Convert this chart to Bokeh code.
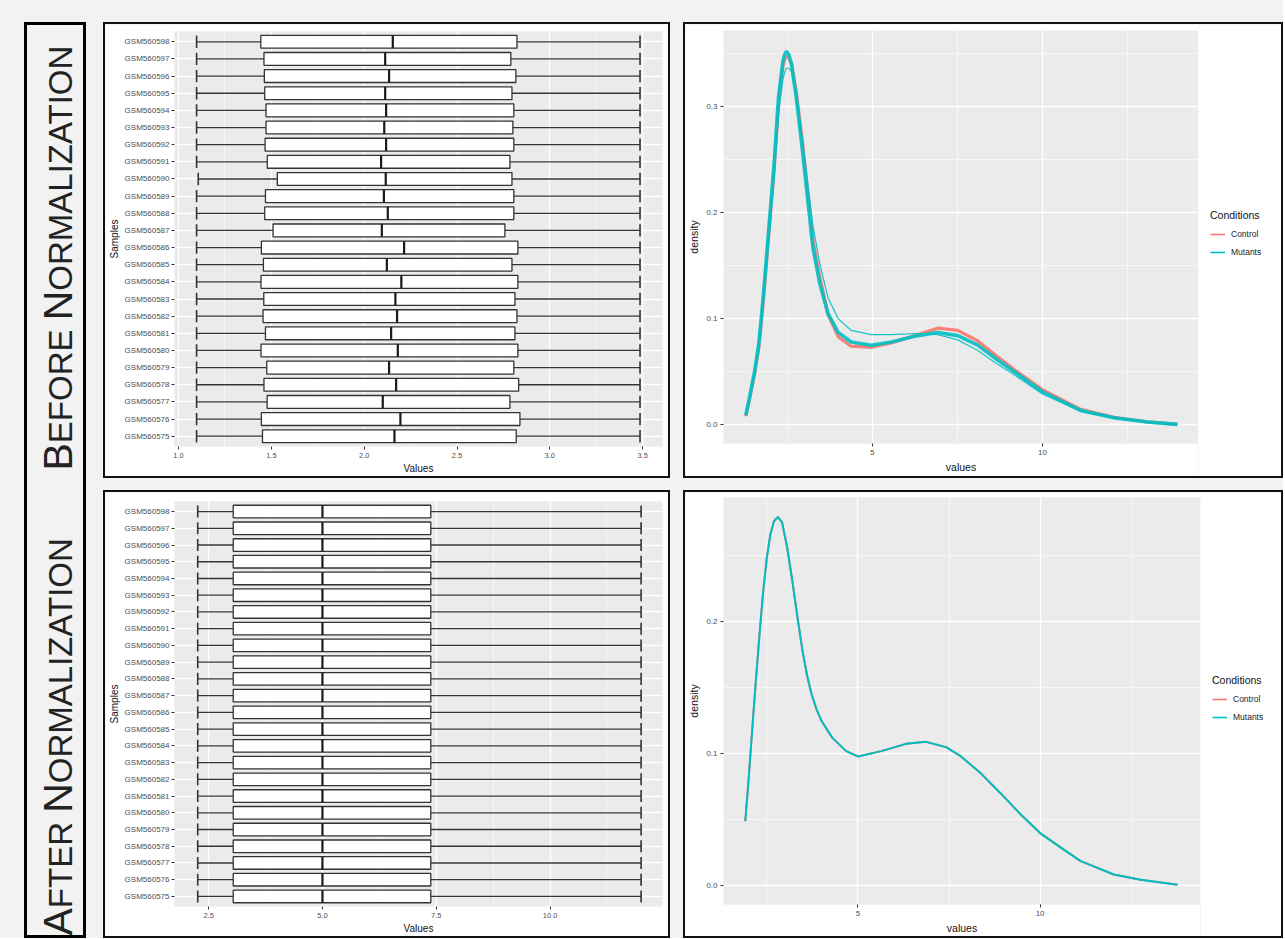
import math
from bokeh.plotting import figure
from bokeh.models import (ColumnDataSource, FactorRange, Range1d, FixedTicker,
                          PrintfTickFormatter, Legend, LegendItem, Spacer)
from bokeh.layouts import row, column
from bokeh.transform import dodge
from bokeh.embed import file_html
from bokeh.resources import INLINE

FONT = "Liberation Sans"
PAGE_BG = "#F2F2F2"

# ---------------- data ----------------
samples = ["GSM560575", "GSM560576", "GSM560577", "GSM560578", "GSM560579", "GSM560580",
           "GSM560581", "GSM560582", "GSM560583", "GSM560584", "GSM560585", "GSM560586",
           "GSM560587", "GSM560588", "GSM560589", "GSM560590", "GSM560591", "GSM560592",
           "GSM560593", "GSM560594", "GSM560595", "GSM560596", "GSM560597", "GSM560598"]

before_low = [1.097, 1.097, 1.097, 1.097, 1.097, 1.097, 1.097, 1.097, 1.097, 1.097, 1.097, 1.097,
              1.097, 1.097, 1.097, 1.106, 1.097, 1.097, 1.097, 1.097, 1.097, 1.097, 1.097, 1.097]
before_q1 = [1.452, 1.446, 1.477, 1.460, 1.475, 1.444, 1.468, 1.455, 1.459, 1.444, 1.457, 1.446,
             1.509, 1.464, 1.468, 1.532, 1.478, 1.466, 1.471, 1.471, 1.464, 1.462, 1.460, 1.443]
before_med = [2.163, 2.195, 2.100, 2.172, 2.134, 2.181, 2.145, 2.177, 2.168, 2.200, 2.122, 2.215,
              2.095, 2.127, 2.106, 2.116, 2.091, 2.118, 2.108, 2.118, 2.113, 2.134, 2.113, 2.154]
before_q3 = [2.819, 2.839, 2.785, 2.832, 2.806, 2.828, 2.812, 2.823, 2.812, 2.828, 2.796, 2.828,
             2.758, 2.806, 2.806, 2.796, 2.785, 2.806, 2.801, 2.806, 2.796, 2.817, 2.790, 2.823]
before_high = [3.486, 3.486, 3.486, 3.486, 3.486, 3.486, 3.486, 3.486, 3.486, 3.486, 3.486, 3.486,
               3.486, 3.486, 3.486, 3.486, 3.486, 3.486, 3.486, 3.486, 3.486, 3.486, 3.486, 3.486]

after_low = [2.26, 2.26, 2.26, 2.26, 2.26, 2.26, 2.26, 2.26, 2.26, 2.26, 2.26, 2.26,
             2.26, 2.26, 2.26, 2.26, 2.26, 2.26, 2.26, 2.26, 2.26, 2.26, 2.26, 2.26]
after_q1 = [3.04, 3.04, 3.04, 3.04, 3.04, 3.04, 3.04, 3.04, 3.04, 3.04, 3.04, 3.04,
            3.04, 3.04, 3.04, 3.04, 3.04, 3.04, 3.04, 3.04, 3.04, 3.04, 3.04, 3.04]
after_med = [5.0, 5.0, 5.0, 5.0, 5.0, 5.0, 5.0, 5.0, 5.0, 5.0, 5.0, 5.0,
             5.0, 5.0, 5.0, 5.0, 5.0, 5.0, 5.0, 5.0, 5.0, 5.0, 5.0, 5.0]
after_q3 = [7.38, 7.38, 7.38, 7.38, 7.38, 7.38, 7.38, 7.38, 7.38, 7.38, 7.38, 7.38,
            7.38, 7.38, 7.38, 7.38, 7.38, 7.38, 7.38, 7.38, 7.38, 7.38, 7.38, 7.38]
after_high = [12.0, 12.0, 12.0, 12.0, 12.0, 12.0, 12.0, 12.0, 12.0, 12.0, 12.0, 12.0,
              12.0, 12.0, 12.0, 12.0, 12.0, 12.0, 12.0, 12.0, 12.0, 12.0, 12.0, 12.0]

before_ticks = [1.0, 1.5, 2.0, 2.5, 3.0, 3.5]
after_ticks = [2.5, 5.0, 7.5, 10.0]

dens_before_x = [1.29, 1.40, 1.55, 1.67, 1.80, 1.96, 2.12, 2.25, 2.38, 2.43, 2.48, 2.55, 2.63,
                 2.77, 2.94, 3.10, 3.26, 3.46, 3.70, 4.00, 4.38, 4.97, 5.56, 6.34, 6.92, 7.51,
                 8.10, 8.68, 9.17, 10.0, 11.12, 12.1, 13.08, 13.96]
dens_before_mut = [0.009, 0.026, 0.051, 0.076, 0.120, 0.183, 0.246, 0.309, 0.343, 0.349, 0.352,
                   0.349, 0.340, 0.309, 0.262, 0.2145, 0.167, 0.133, 0.105, 0.087, 0.078, 0.075,
                   0.078, 0.084, 0.087, 0.084, 0.075, 0.061, 0.050, 0.031, 0.0135, 0.0066,
                   0.0025, 0.0003]
dens_before_mut_b = [0.009, 0.025, 0.049, 0.073, 0.114, 0.173, 0.232, 0.293, 0.326, 0.332, 0.336,
                     0.336, 0.333, 0.310, 0.272, 0.230, 0.188, 0.152, 0.120, 0.100, 0.089, 0.085,
                     0.085, 0.086, 0.085, 0.080, 0.070, 0.057, 0.047, 0.029, 0.0128, 0.0063,
                     0.0024, 0.0003]
dens_before_ctrl = [0.008, 0.024, 0.048, 0.072, 0.115, 0.178, 0.240, 0.302, 0.338, 0.344, 0.347,
                    0.346, 0.340, 0.314, 0.270, 0.222, 0.174, 0.140, 0.104, 0.083, 0.074, 0.073,
                    0.077, 0.085, 0.091, 0.089, 0.079, 0.064, 0.052, 0.033, 0.0145, 0.007,
                    0.0027, 0.0003]

dens_after_x = [1.91, 2.0, 2.1, 2.2, 2.3, 2.4, 2.5, 2.6, 2.7, 2.81, 2.92, 3.06, 3.2, 3.36, 3.48,
                3.6, 3.72, 3.86, 4.0, 4.3, 4.68, 5.0, 5.64, 6.32, 6.87, 7.42, 7.83, 8.38, 8.92,
                9.47, 10.0, 10.57, 11.1, 12.02, 12.76, 13.77]
dens_after_y = [0.049, 0.080, 0.118, 0.155, 0.190, 0.222, 0.248, 0.266, 0.276, 0.279, 0.275,
                0.256, 0.231, 0.200, 0.178, 0.160, 0.146, 0.134, 0.125, 0.112, 0.102, 0.098,
                0.102, 0.1075, 0.109, 0.105, 0.098, 0.085, 0.070, 0.054, 0.040, 0.029, 0.019,
                0.0087, 0.0047, 0.001]

conditions = ["Control", "Mutants"]
cond_colors = ["#F8766D", "#00BFC4"]

title_before = ["B", "EFORE", "N", "ORMALIZATION"]
title_after = ["A", "FTER", "N", "ORMALIZATION"]


# ---------------- helpers ----------------
def sp(color=PAGE_BG, **kw):
    return Spacer(styles={"background-color": color}, **kw)


def framed(child, w, h, b, color="#111111"):
    """Surround a child of size (w-2b, h-2b) with a solid border of width b."""
    return row(sp(color, width=b, height=h),
               column(sp(color, width=w - 2 * b, height=b), child,
                      sp(color, width=w - 2 * b, height=b)),
               sp(color, width=b, height=h))


def style_axes(p, xlab_size, ylab_size, title_size, title_standoff):
    for ax in (p.xaxis[0], p.yaxis[0]):
        ax.axis_line_color = None
        ax.major_tick_line_color = "#333333"
        ax.major_tick_in = 0
        ax.major_tick_out = 3
        ax.minor_tick_line_color = None
        ax.major_label_text_font = FONT
        ax.major_label_text_color = "#4D4D4D"
        ax.major_label_standoff = 2
        ax.axis_label_text_font = FONT
        ax.axis_label_text_font_style = "normal"
        ax.axis_label_text_font_size = title_size
        ax.axis_label_text_color = "#111111"
        ax.axis_label_standoff = title_standoff
    p.xaxis[0].major_label_text_font_size = xlab_size
    p.yaxis[0].major_label_text_font_size = ylab_size
    p.background_fill_color = "#EBEBEB"
    p.border_fill_color = "white"
    p.outline_line_color = None
    for g in p.grid:
        g.grid_line_color = "white"
        g.grid_line_width = 1.3
        g.minor_grid_line_color = "white"
        g.minor_grid_line_width = 0.6


def box_fig(low, q1, med, q3, high, xr, ticks, minor, height, mb_top, mb_bottom):
    p = figure(width=563, height=height,
               y_range=FactorRange(factors=samples, range_padding=0.1,
                                   range_padding_units="absolute"),
               x_range=Range1d(*xr), output_backend="svg", toolbar_location=None,
               min_border_left=68, min_border_right=6, min_border_top=mb_top,
               min_border_bottom=mb_bottom)
    src = ColumnDataSource(dict(s=samples, low=low, q1=q1, med=med, q3=q3, high=high))
    p.segment(x0="low", y0="s", x1="q1", y1="s", source=src, line_color="#333333", line_width=1.3)
    p.segment(x0="q3", y0="s", x1="high", y1="s", source=src, line_color="#333333", line_width=1.3)
    for col in ("low", "high"):
        p.segment(x0=col, x1=col, y0=dodge("s", -0.36, range=p.y_range),
                  y1=dodge("s", 0.36, range=p.y_range), source=src,
                  line_color="#333333", line_width=1.6)
    p.hbar(y="s", left="q1", right="q3", height=0.75, source=src, fill_color="white",
           line_color="#333333", line_width=1.3)
    p.segment(x0="med", x1="med", y0=dodge("s", -0.375, range=p.y_range),
              y1=dodge("s", 0.375, range=p.y_range), source=src,
              line_color="#1a1a1a", line_width=2.2)
    p.xaxis.ticker = FixedTicker(ticks=ticks, minor_ticks=minor)
    p.xaxis.formatter = PrintfTickFormatter(format="%.1f")
    p.xaxis.axis_label = "Values"
    p.yaxis.axis_label = "Samples"
    style_axes(p, "7.5px", "8px", "10px", 2)
    return p


def dens_panel(width, height, legend_w, xr, yr, yticks, yminor, mb, curves, key_curves, leg_y):
    p = figure(width=width - legend_w, height=height, x_range=Range1d(*xr),
               y_range=Range1d(*yr), output_backend="svg", toolbar_location=None,
               min_border_left=mb[0], min_border_right=0, min_border_top=mb[1],
               min_border_bottom=mb[2])
    for xs, ys, color, lw, alpha in curves:
        p.line(x=xs, y=ys, line_color=color, line_width=lw, line_alpha=alpha)
    p.xaxis.ticker = FixedTicker(ticks=[5, 10], minor_ticks=[2.5, 7.5, 12.5])
    p.yaxis.ticker = FixedTicker(ticks=yticks, minor_ticks=yminor)
    p.yaxis.formatter = PrintfTickFormatter(format="%.1f")
    p.xaxis.axis_label = "values"
    p.yaxis.axis_label = "density"
    style_axes(p, "8px", "8px", "10.5px", 3)

    # legend strip to the right of the plot area (inside the panel border).
    # Its ranges keep the key curves out of view; only the legend shows them.
    lf = figure(width=legend_w, height=height, x_range=Range1d(0, 1), y_range=Range1d(0, 1),
                output_backend="svg", toolbar_location=None, x_axis_location=None,
                y_axis_location=None, min_border=0)
    lf.grid.visible = False
    lf.outline_line_color = None
    lf.background_fill_color = "white"
    lf.border_fill_color = "white"
    keys = [lf.line(x=xs, y=ys, line_color=c, line_width=1.6)
            for (xs, ys), c in zip(key_curves, cond_colors)]
    leg = Legend(items=[LegendItem(label=lab, renderers=[r])
                        for lab, r in zip(conditions, keys)],
                 title="Conditions", location=(12, leg_y),
                 title_text_font=FONT, title_text_font_size="10.5px",
                 title_text_color="#111111", title_text_font_style="normal", title_standoff=5,
                 label_text_font=FONT, label_text_font_size="8.5px", label_text_color="#222222",
                 glyph_width=15, glyph_height=16, label_height=16, label_standoff=6,
                 spacing=2, padding=5, margin=0, border_line_color=None,
                 background_fill_alpha=0.0)
    lf.add_layout(leg, "center")
    return row(p, lf)


# ---------------- panels ----------------
tl = box_fig(before_low, before_q1, before_med, before_q3, before_high,
             (0.978, 3.607), before_ticks, [1.25, 1.75, 2.25, 2.75, 3.25],
             452, 7, 30)
bl = box_fig(after_low, after_q1, after_med, after_q3, after_high,
             (1.75, 12.47), after_ticks, [3.75, 6.25, 8.75, 11.25],
             444, 9, 28)

tr = dens_panel(596, 452, 83, (0.634, 14.58), (-0.0177, 0.3716), [0.0, 0.1, 0.2, 0.3],
                [0.05, 0.15, 0.25, 0.35], (37, 6, 33),
                [(dens_before_x, dens_before_ctrl, cond_colors[0], 3.2, 0.9),
                 (dens_before_x, dens_before_mut, cond_colors[1], 3.6, 0.9),
                 (dens_before_x, dens_before_mut_b, cond_colors[1], 1.2, 0.9)],
                [(dens_before_x, dens_before_ctrl), (dens_before_x, dens_before_mut)],
                183)
br = dens_panel(596, 444, 81, (1.313, 14.40), (-0.014, 0.2938), [0.0, 0.1, 0.2],
                [0.05, 0.15, 0.25], (37, 5, 30),
                [(dens_after_x, dens_after_y, cond_colors[0], 2.0, 1.0),
                 (dens_after_x, dens_after_y, cond_colors[1], 2.0, 1.0)],
                [(dens_after_x, dens_after_y), (dens_after_x, dens_after_y)],
                179)

# ---------------- side title ----------------
W = {"A": .667, "B": .667, "E": .667, "F": .611, "I": .278, "L": .556, "M": .833,
     "N": .722, "O": .778, "R": .722, "T": .611, "Z": .611, " ": .278}
BIG, SMALL = 41, 33
tx, ty, tt, ts = [], [], [], []
for parts, start in ((title_before, 465), (title_after, 0)):
    pos = start
    for i, part in enumerate(parts):
        big = (i % 2 == 0)
        size = BIG if big else SMALL
        tx.append(30 if big else 33)
        ty.append(pos)
        tt.append(part)
        ts.append(f"{size}px")
        pos += sum(W[c] for c in part) * size
        if i == 1:
            pos += W[" "] * SMALL

tf = figure(width=56, height=910, x_range=Range1d(0, 56), y_range=Range1d(0, 910),
            output_backend="svg", toolbar_location=None, x_axis_location=None,
            y_axis_location=None, min_border=0)
tf.grid.visible = False
tf.outline_line_color = None
tf.background_fill_color = PAGE_BG
tf.border_fill_color = PAGE_BG
tf.text(x=tx, y=ty, text=tt, text_font_size=ts, angle=math.pi / 2,
        text_align="left", text_baseline="alphabetic", text_color="#222222",
        text_font={"value": FONT})

# ---------------- layout ----------------
BG = {"background-color": PAGE_BG}
right_col = column(row(framed(tl, 567, 456, 2), sp(width=13, height=456),
                       framed(tr, 600, 456, 2), styles=BG),
                   sp(width=1180, height=12),
                   row(framed(bl, 567, 448, 2), sp(width=13, height=448),
                       framed(br, 600, 448, 2), styles=BG), styles=BG)
main = row(sp(width=24, height=916), framed(tf, 62, 916, 3, "#000000"),
           sp(width=17, height=916), right_col, styles=BG)
root = column(sp(width=1283, height=22), main, styles=BG)

open("out.html", "w").write(file_html(root, INLINE))
